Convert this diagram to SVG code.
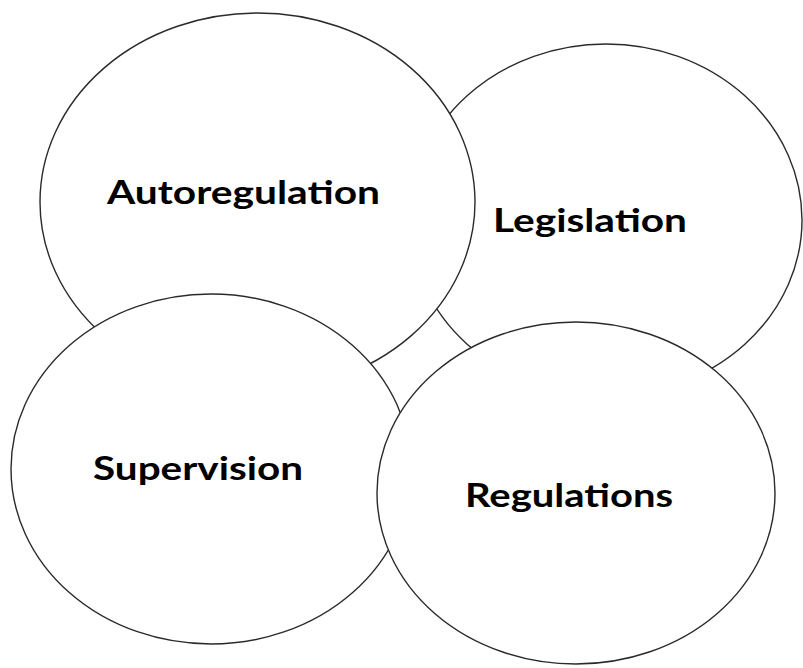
<svg xmlns="http://www.w3.org/2000/svg" width="803" height="668" viewBox="0 0 803 668">
<style>
.node ellipse{fill:#ffffff;stroke:#2a2a2a;stroke-width:1.4}
.label{font-family:Lato,"Open Sans","Liberation Sans",sans-serif;font-weight:700;font-size:32px;fill:#000000}
</style>
<rect width="803" height="668" fill="#ffffff"/>
<g id="connectors"></g>
<g id="legislation" class="node">
<ellipse cx="606" cy="220" rx="196" ry="176"/>
<text class="label" x="493" y="232" textLength="194" lengthAdjust="spacingAndGlyphs">Legislation</text>
</g>
<g id="autoregulation" class="node">
<ellipse cx="257.5" cy="202" rx="217.5" ry="189"/>
<text class="label" x="107" y="203.5" textLength="273" lengthAdjust="spacingAndGlyphs">Autoregulation</text>
</g>
<g id="supervision" class="node">
<ellipse cx="211" cy="469" rx="200" ry="175"/>
<text class="label" x="93" y="480" textLength="210" lengthAdjust="spacingAndGlyphs">Supervision</text>
</g>
<g id="regulations" class="node">
<ellipse cx="576" cy="493" rx="199" ry="171"/>
<text class="label" x="465" y="506.5" textLength="208" lengthAdjust="spacingAndGlyphs">Regulations</text>
</g>
</svg>
